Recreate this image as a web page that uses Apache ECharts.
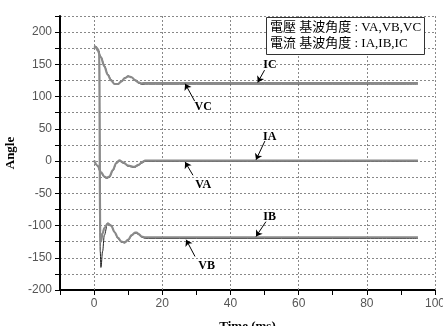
<!DOCTYPE html>
<html>
<head>
<meta charset="utf-8">
<script src="https://cdn.jsdelivr.net/npm/echarts@6/dist/echarts.min.js"></script>
<style>
html, body { margin: 0; padding: 0; background: #fff; }
#chart { width: 443px; height: 326px; }
</style>
</head>
<body>
<div id="chart"></div>
<script>
// time axis (ms) for each phase group
var tC = [0, 0.5, 1, 2, 3, 4, 5, 6, 7, 8, 9, 10, 11, 12, 13, 14, 15, 16, 20, 40, 60, 80, 95]
var VC = [176, 178, 173, 162, 148, 135, 126, 120, 119, 123, 129, 132, 130, 125, 121, 119, 119.5, 119.5, 119.5, 119.5, 119.5, 119.5, 119.5]
var IC = [176, 177, 172, 161, 147, 134, 125, 119.5, 119.5, 123.5, 128.5, 131.5, 130, 125.5, 122, 120.5, 121, 121, 121, 121, 121, 121, 121]

var tA = [0, 1, 2, 3, 3.7, 4.5, 5.5, 6.5, 7.4, 8.5, 10, 11.8, 13, 14, 15, 16, 20, 40, 60, 80, 95]
var VA = [0, -8, -18, -25, -27, -25, -15, -4, 0, -3, -8, -10, -7, -3, -0.5, -0.5, -0.5, -0.5, -0.5, -0.5, -0.5]
var IA = [1, -7, -17, -24, -26, -24, -14, -3, 1, -2, -7, -9, -6, -2, 0.8, 0.8, 0.8, 0.8, 0.8, 0.8, 0.8]

var tB = [0, 0.5, 1, 1.5, 1.8, 2, 2.5, 3, 4, 5, 6, 7, 8, 9, 10, 11, 12, 12.5, 13, 14, 15, 16, 20, 40, 60, 80, 95]
var VB = [177, 177, 174, 170, -140, -165, -140, -115, -96, -100, -110, -120, -126, -127, -123, -116, -112, -112, -114, -118, -120, -120, -120, -120, -120, -120, -120]
var IB = [177, 177, 174, 170, -110, -125, -112, -104, -97, -100, -110, -119, -125, -126, -122, -115, -111, -111, -113, -117, -118.5, -118.5, -118.5, -118.5, -118.5, -118.5, -118.5]

// vertical grid positions
var gridX = [0, 20, 40, 60, 80, 100]

// curve annotations: name, text position, arrow start, arrow end (data coords)
var annoNames = ['IC', 'VC', 'IA', 'VA', 'IB', 'VB']
var annoText = [[51.6, 149], [32, 84], [51.5, 38], [32, -37], [51.5, -86], [33, -162]]
var annoFrom = [[50, 141], [29.5, 93], [50.1, 31], [29, -22], [50.4, -94], [29.6, -148]]
var annoTo = [[48, 122], [26.7, 120], [47.5, 2], [26.7, -1.5], [47.5, -117], [27, -122]]

var legendText = '電壓 基波角度 : VA,VB,VC\n電流 基波角度 : IA,IB,IC'

function pairs(t, v) {
    return t.map(function (x, i) { return [x, v[i]] })
}

var myChart = echarts.init(document.getElementById('chart'))

var serifFont = '"Liberation Serif", "Times New Roman", serif'
var gridLine = { color: '#888', type: [2, 2], width: 1 }

function curve(name, t, v, isCurrent) {
    return {
        name: name,
        type: 'line',
        data: pairs(t, v),
        showSymbol: false,
        smooth: 0.35,
        smoothMonotone: 'x',
        z: isCurrent ? 4 : 3,
        lineStyle: isCurrent
            ? { color: '#8a8a8a', width: 2.2 }
            : { color: '#222', width: 1 }
    }
}

var series = [
    curve('VC', tC, VC, false),
    curve('VA', tA, VA, false),
    curve('VB', tB, VB, false),
    curve('IC', tC, IC, true),
    curve('IA', tA, IA, true),
    curve('IB', tB, IB, true)
]

// grid lines along x
series[0].markLine = {
    silent: true,
    symbol: 'none',
    label: { show: false },
    lineStyle: gridLine,
    z: 1,
    data: gridX.map(function (x) { return { xAxis: x } })
}

// arrows and labels
series.push({
    name: 'notes',
    type: 'line',
    data: [],
    z: 6,
    markLine: {
        silent: true,
        symbol: ['none', 'arrow'],
        symbolSize: 6,
        label: { show: false },
        lineStyle: { color: '#000', width: 1, type: 'solid' },
        data: annoNames.map(function (n, i) {
            return [{ coord: annoFrom[i] }, { coord: annoTo[i] }]
        })
    },
    markPoint: {
        silent: true,
        symbol: 'circle',
        symbolSize: 1,
        itemStyle: { color: 'rgba(0,0,0,0)' },
        label: {
            show: true,
            position: 'inside',
            formatter: '{b}',
            color: '#000',
            fontFamily: serifFont,
            fontWeight: 'bold',
            fontSize: 12
        },
        data: annoNames.map(function (n, i) {
            return { name: n, coord: annoText[i] }
        })
    }
})

var option = {
    animation: false,
    backgroundColor: '#fff',
    title: {
        text: legendText,
        left: 266,
        top: 17,
        padding: [3, 4, 3, 4],
        borderWidth: 1,
        borderColor: '#333',
        backgroundColor: '#fff',
        textStyle: {
            fontFamily: '"Liberation Serif", "Noto Sans CJK TC", serif',
            fontSize: 13,
            fontWeight: 'normal',
            color: '#000',
            lineHeight: 16
        }
    },
    grid: { left: 60, right: 8, top: 16, bottom: 36, outerBoundsMode: 'none', containLabel: false },
    xAxis: {
        type: 'value',
        min: -10,
        max: 100,
        interval: 10,
        name: 'Time (ms)',
        nameLocation: 'middle',
        nameGap: 30,
        nameTextStyle: { fontFamily: serifFont, fontWeight: 'bold', fontSize: 13, color: '#000' },
        axisLine: { onZero: false, lineStyle: { color: '#000', width: 2 } },
        axisTick: { length: 5, lineStyle: { color: '#000' } },
        axisLabel: {
            color: '#555',
            fontFamily: '"Liberation Sans", Arial, sans-serif',
            fontSize: 12,
            margin: 8,
            formatter: function (v) { return (v >= 0 && v % 20 === 0) ? v : '' }
        },
        splitLine: { show: false }
    },
    yAxis: {
        type: 'value',
        min: -200,
        max: 225,
        interval: 25,
        name: 'Angle',
        nameLocation: 'middle',
        nameGap: 42,
        nameRotate: 90,
        nameTextStyle: { fontFamily: serifFont, fontWeight: 'bold', fontSize: 13, color: '#000' },
        axisLine: { show: true, onZero: false, lineStyle: { color: '#000', width: 2 } },
        axisTick: { show: true, length: 5, lineStyle: { color: '#000' } },
        axisLabel: {
            color: '#555',
            fontFamily: '"Liberation Sans", Arial, sans-serif',
            fontSize: 12,
            margin: 8,
            formatter: function (v) { return (v <= 200 && v % 50 === 0) ? v : '' }
        },
        splitLine: { show: true, lineStyle: gridLine }
    },
    series: series
}

myChart.setOption(option)
</script>
</body>
</html>
